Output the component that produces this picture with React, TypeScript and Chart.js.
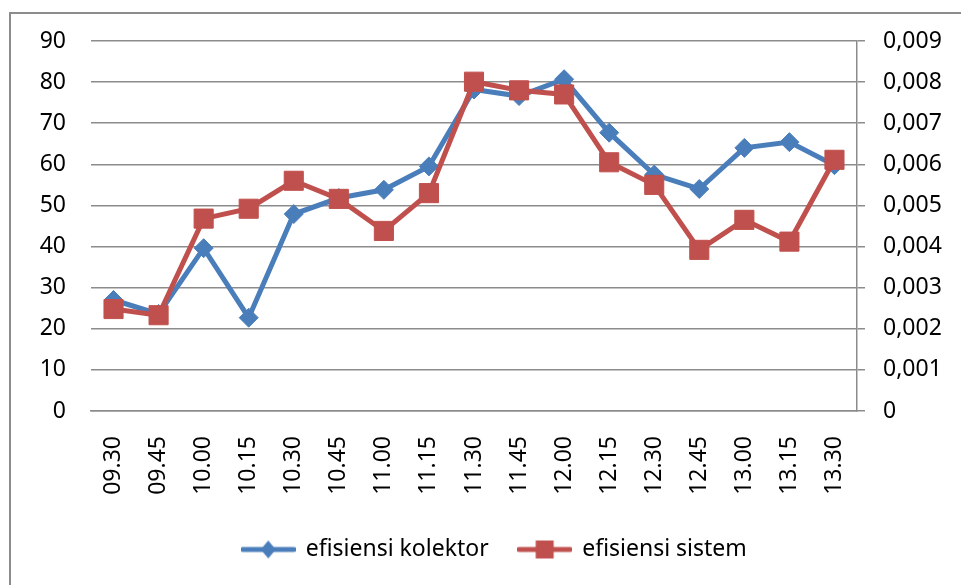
import React, { useEffect, useRef } from "react";
import { Chart, registerables } from "chart.js";

Chart.register(...registerables);

const categories = ["09.30", "09.45", "10.00", "10.15", "10.30", "10.45", "11.00", "11.15", "11.30", "11.45", "12.00", "12.15", "12.30", "12.45", "13.00", "13.15", "13.30"];
const efisiensiKolektor = [27.0, 23.6, 39.6, 22.7, 47.9, 51.8, 53.8, 59.5, 78.2, 76.6, 80.7, 67.7, 57.5, 54.0, 64.0, 65.4, 59.8];
const efisiensiSistem = [0.00248, 0.00233, 0.00468, 0.00492, 0.0056, 0.00516, 0.00438, 0.0053, 0.00801, 0.0078, 0.0077, 0.00605, 0.0055, 0.00392, 0.00465, 0.00412, 0.00611];
const leftTicks = { min: 0, max: 90, step: 10 };
const rightTicks = { min: 0, max: 0.009, step: 0.001 };

const BLUE = "#4A7EBB";
const RED = "#C0504D";
const GRID = "#8C8C8C";
const FONT = "'Noto Sans', sans-serif";

function makeLegendImage(color: string, kind: "diamond" | "square") {
  const c = document.createElement("canvas");
  c.width = 55;
  c.height = 22;
  const g = c.getContext("2d")!;
  g.strokeStyle = color;
  g.lineWidth = 5;
  g.lineCap = "round";
  g.beginPath();
  g.moveTo(2, 11);
  g.lineTo(53, 11);
  g.stroke();
  g.fillStyle = color;
  g.beginPath();
  if (kind === "diamond") {
    g.moveTo(27.5, 2);
    g.lineTo(35, 11);
    g.lineTo(27.5, 20);
    g.lineTo(20, 11);
    g.closePath();
  } else {
    g.rect(18.5, 2, 18, 18);
  }
  g.fill();
  return c;
}

export default function App() {
  const ref = useRef<HTMLCanvasElement | null>(null);

  useEffect(() => {
    if (!ref.current) return;
    const blueImg = makeLegendImage(BLUE, "diamond");
    const redImg = makeLegendImage(RED, "square");
    const chart = new Chart(ref.current, {
      type: "line",
      data: {
        labels: categories,
        datasets: [
          {
            label: "efisiensi kolektor",
            data: efisiensiKolektor,
            yAxisID: "y",
            borderColor: BLUE,
            backgroundColor: BLUE,
            borderWidth: 5,
            pointStyle: "rectRot",
            pointRadius: 9.5,
            pointBorderWidth: 1,
            pointBackgroundColor: BLUE,
            pointBorderColor: BLUE,
            tension: 0,
            order: 1,
          },
          {
            label: "efisiensi sistem",
            data: efisiensiSistem,
            yAxisID: "y1",
            borderColor: RED,
            backgroundColor: RED,
            borderWidth: 5,
            pointStyle: "rect",
            pointRadius: 13.5,
            pointBorderWidth: 1,
            pointBackgroundColor: RED,
            pointBorderColor: RED,
            tension: 0,
            order: 0,
          },
        ],
      },
      options: {
        animation: false,
        responsive: false,
        maintainAspectRatio: false,
        layout: { padding: { top: 41, bottom: 14, left: 28, right: 0 } },
        plugins: {
          tooltip: { enabled: false },
          legend: {
            position: "bottom",
            labels: {
              usePointStyle: true,
              pointStyleWidth: 52,
              padding: 30,
              color: "#000",
              font: { family: FONT, size: 23 },
              generateLabels: () => [
                { text: "efisiensi kolektor", pointStyle: blueImg as any, fillStyle: BLUE, strokeStyle: BLUE, lineWidth: 0, hidden: false, datasetIndex: 0, fontColor: "#000" },
                { text: "efisiensi sistem", pointStyle: redImg as any, fillStyle: RED, strokeStyle: RED, lineWidth: 0, hidden: false, datasetIndex: 1, fontColor: "#000" },
              ],
            },
          },
        },
        scales: {
          x: {
            offset: true,
            afterFit: (s: any) => {
              s.height = 97;
            },
            grid: { display: false, drawTicks: false },
            border: { display: true, color: GRID, width: 1.5 },
            ticks: {
              maxRotation: 90,
              minRotation: 90,
              autoSkip: false,
              padding: 25,
              color: "#000",
              font: { family: FONT, size: 23 },
            },
          },
          y: {
            position: "left",
            min: leftTicks.min,
            max: leftTicks.max,
            afterFit: (s: any) => {
              s.width = 63;
            },
            grid: { color: GRID, lineWidth: 1.5, drawTicks: false },
            border: { display: false },
            ticks: {
              stepSize: leftTicks.step,
              padding: 25,
              color: "#000",
              font: { family: FONT, size: 23 },
            },
          },
          y1: {
            position: "right",
            min: rightTicks.min,
            max: rightTicks.max,
            afterFit: (s: any) => {
              s.width = 104;
            },
            grid: { drawOnChartArea: false, drawTicks: true, tickLength: 8, color: GRID, lineWidth: 1.5 },
            border: { display: true, color: GRID, width: 1.5 },
            ticks: {
              stepSize: rightTicks.step,
              padding: 18,
              color: "#000",
              font: { family: FONT, size: 23 },
              callback: (v: any) => {
                const n = Number(v);
                if (Math.abs(n) < 1e-12) return "0";
                return n.toFixed(3).replace(".", ",");
              },
            },
          },
        },
      },
    });
    return () => chart.destroy();
  }, []);

  return (
    <div style={{ position: "fixed", left: 0, top: 0, width: 961, height: 585, overflow: "hidden", background: "#fff" }}>
      <div
        style={{
          position: "absolute",
          left: 9,
          top: 12,
          width: 1000,
          height: 700,
          borderLeft: "2px solid #8C8C8C",
          borderTop: "2px solid #8C8C8C",
          boxSizing: "border-box",
        }}
      />
      <canvas ref={ref} width={961} height={585} style={{ position: "absolute", left: 0, top: 0, width: 961, height: 585 }} />
    </div>
  );
}
